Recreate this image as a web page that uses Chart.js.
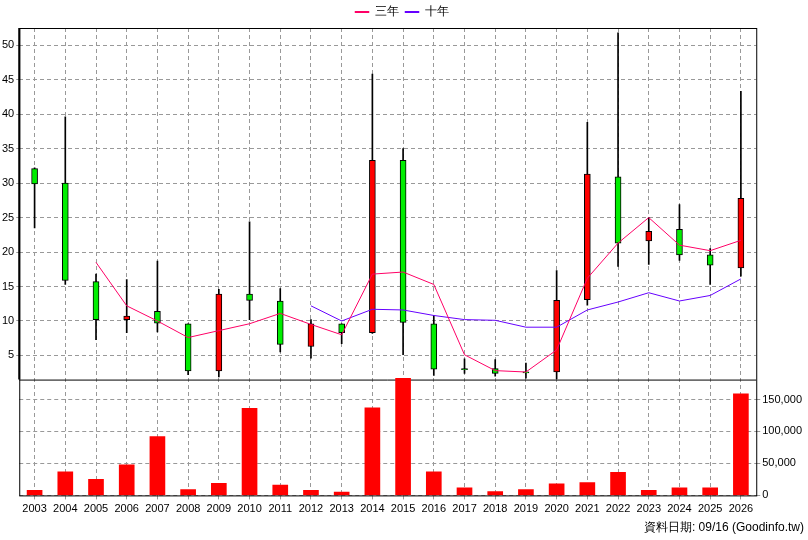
<!DOCTYPE html>
<html><head><meta charset="utf-8">
<script src="https://cdn.jsdelivr.net/npm/chart.js@4"></script>
<style>body{margin:0;background:#fff}#w{width:808px;height:540px}</style>
</head><body><div id="w"><canvas id="c"></canvas></div>
<script>
const years=['2003','2004','2005','2006','2007','2008','2009','2010','2011','2012','2013','2014','2015','2016','2017','2018','2019','2020','2021','2022','2023','2024','2025','2026'];
const openP =[32.1,30.0,15.7,10.2,11.4,9.6,2.75,13.9,12.9,6.3,9.6,8.3,33.3,9.6,3.0,3.1,2.55,2.6,13.1,30.9,21.6,23.3,19.6,17.7];
const closeP=[29.9,15.9,10.2,10.7,9.7,2.75,13.9,13.0,6.6,9.6,8.3,33.3,9.8,3.0,3.0,2.4,2.55,13.0,31.3,21.3,23.0,19.6,18.1,27.8];
const highP =[32.2,39.6,16.8,16.0,18.7,9.6,14.6,24.4,14.7,10.2,9.6,45.8,35.0,10.8,4.5,4.4,3.9,17.3,38.8,51.8,25.0,26.9,20.5,43.3];
const lowP  =[23.5,15.3,7.3,8.3,8.4,2.2,1.9,10.2,5.5,4.6,6.7,8.2,5.1,2.1,2.4,2.0,1.7,1.6,12.3,17.9,18.2,18.8,15.3,16.5];
const ma3=[null,null,18.5,12.2,10.0,7.6,8.6,9.6,11.1,9.5,8.0,16.8,17.1,15.3,5.1,2.8,2.6,5.8,16.2,21.3,25.0,21.0,20.2,21.7];
const ma10=[null,null,null,null,null,null,null,null,null,12.2,10.0,11.7,11.6,10.8,10.2,10.1,9.1,9.1,11.6,12.75,14.1,12.9,13.7,16.1];
const volume=[8000,37000,25000,48000,92000,9000,19000,136000,16000,8000,5000,137000,183000,37000,12000,6000,9000,18000,20000,36000,8000,12000,12000,159000];
const priceTicks=[5,10,15,20,25,30,35,40,45,50];
const volTicks=[0,50000,100000,150000];
const PMIN=-15.3,PMAX=52.5,PSPLIT=1.5,VMAX=731000;

const up=openP.map((o,i)=>closeP[i]>o);
const bodies=openP.map((o,i)=>{let a=Math.min(o,closeP[i]),b=Math.max(o,closeP[i]);if(b-a<0.15){b+=0.08;a-=0.08;}return [a,b];});
const wicks=lowP.map((l,i)=>[l,highP[i]]);
const F='"Liberation Sans", Arial, sans-serif';

const deco={id:'deco',beforeDatasetsDraw(ch){const {ctx,chartArea:a,scales}=ch;const y=scales.y.getPixelForValue(PSPLIT);
 ctx.save();ctx.strokeStyle='#000';ctx.lineWidth=1;ctx.strokeRect(a.left+0.5,a.top+0.5,a.right-a.left,a.bottom-a.top);
 ctx.beginPath();ctx.moveTo(a.left,y+0.5);ctx.lineTo(a.right,y+0.5);ctx.stroke();
 ctx.lineWidth=2;ctx.beginPath();ctx.moveTo(a.left,a.top);ctx.lineTo(a.left,y);ctx.stroke();ctx.restore();}};

new Chart(document.getElementById('c'),{
 data:{labels:years,datasets:[
  {type:'line',label:'三年',data:ma3,borderColor:'#ff0066',backgroundColor:'#ff0066',borderWidth:1,pointRadius:0,yAxisID:'y',order:0},
  {type:'line',label:'十年',data:ma10,borderColor:'#6600ff',backgroundColor:'#6600ff',borderWidth:1,pointRadius:0,yAxisID:'y',order:0},
  {type:'bar',label:'wick',data:wicks,backgroundColor:'#000',barThickness:1,grouped:false,yAxisID:'y',order:2},
  {type:'bar',label:'body',data:bodies,backgroundColor:up.map(u=>u?'#ff0000':'#00ee00'),borderColor:'#000',borderWidth:1,borderSkipped:false,barThickness:6,grouped:false,yAxisID:'y',order:1},
  {type:'bar',label:'vol',data:volume,backgroundColor:'#ff0000',barThickness:15,grouped:false,yAxisID:'v',order:3}
 ]},
 options:{animation:false,responsive:true,maintainAspectRatio:false,
  layout:{padding:{left:0,right:4,top:0,bottom:0}},
  plugins:{legend:{position:'top',labels:{filter:i=>i.text==='三年'||i.text==='十年',boxWidth:14,boxHeight:1,font:{family:F,size:12},color:'#000',padding:6}},
   title:{display:true,position:'bottom',align:'end',text:'資料日期: 09/16 (Goodinfo.tw)',font:{family:F,size:12,weight:'normal'},color:'#000',padding:{top:2,bottom:5}},
   tooltip:{enabled:false}},
  scales:{
   x:{offset:true,grid:{color:'#999',offset:false,drawTicks:true,tickLength:4},border:{display:false,dash:[4,3]},ticks:{font:{family:F,size:11},color:'#000',maxRotation:0,autoSkip:false,padding:3}},
   y:{position:'left',min:PMIN,max:PMAX,afterBuildTicks:s=>{s.ticks=priceTicks.map(v=>({value:v}));},
      grid:{color:'#999',drawTicks:true,tickLength:3},border:{display:false,dash:[4,3]},ticks:{font:{family:F,size:11},color:'#000',padding:2}},
   v:{position:'right',min:0,max:VMAX,afterBuildTicks:s=>{s.ticks=volTicks.map(v=>({value:v}));},
      grid:{color:'#999',drawOnChartArea:true,tickLength:4},border:{display:false,dash:[4,3]},ticks:{font:{family:F,size:11},color:'#000',padding:2,callback:v=>v.toLocaleString('en-US')}}
  }},
 plugins:[deco]
});
</script></body></html>
